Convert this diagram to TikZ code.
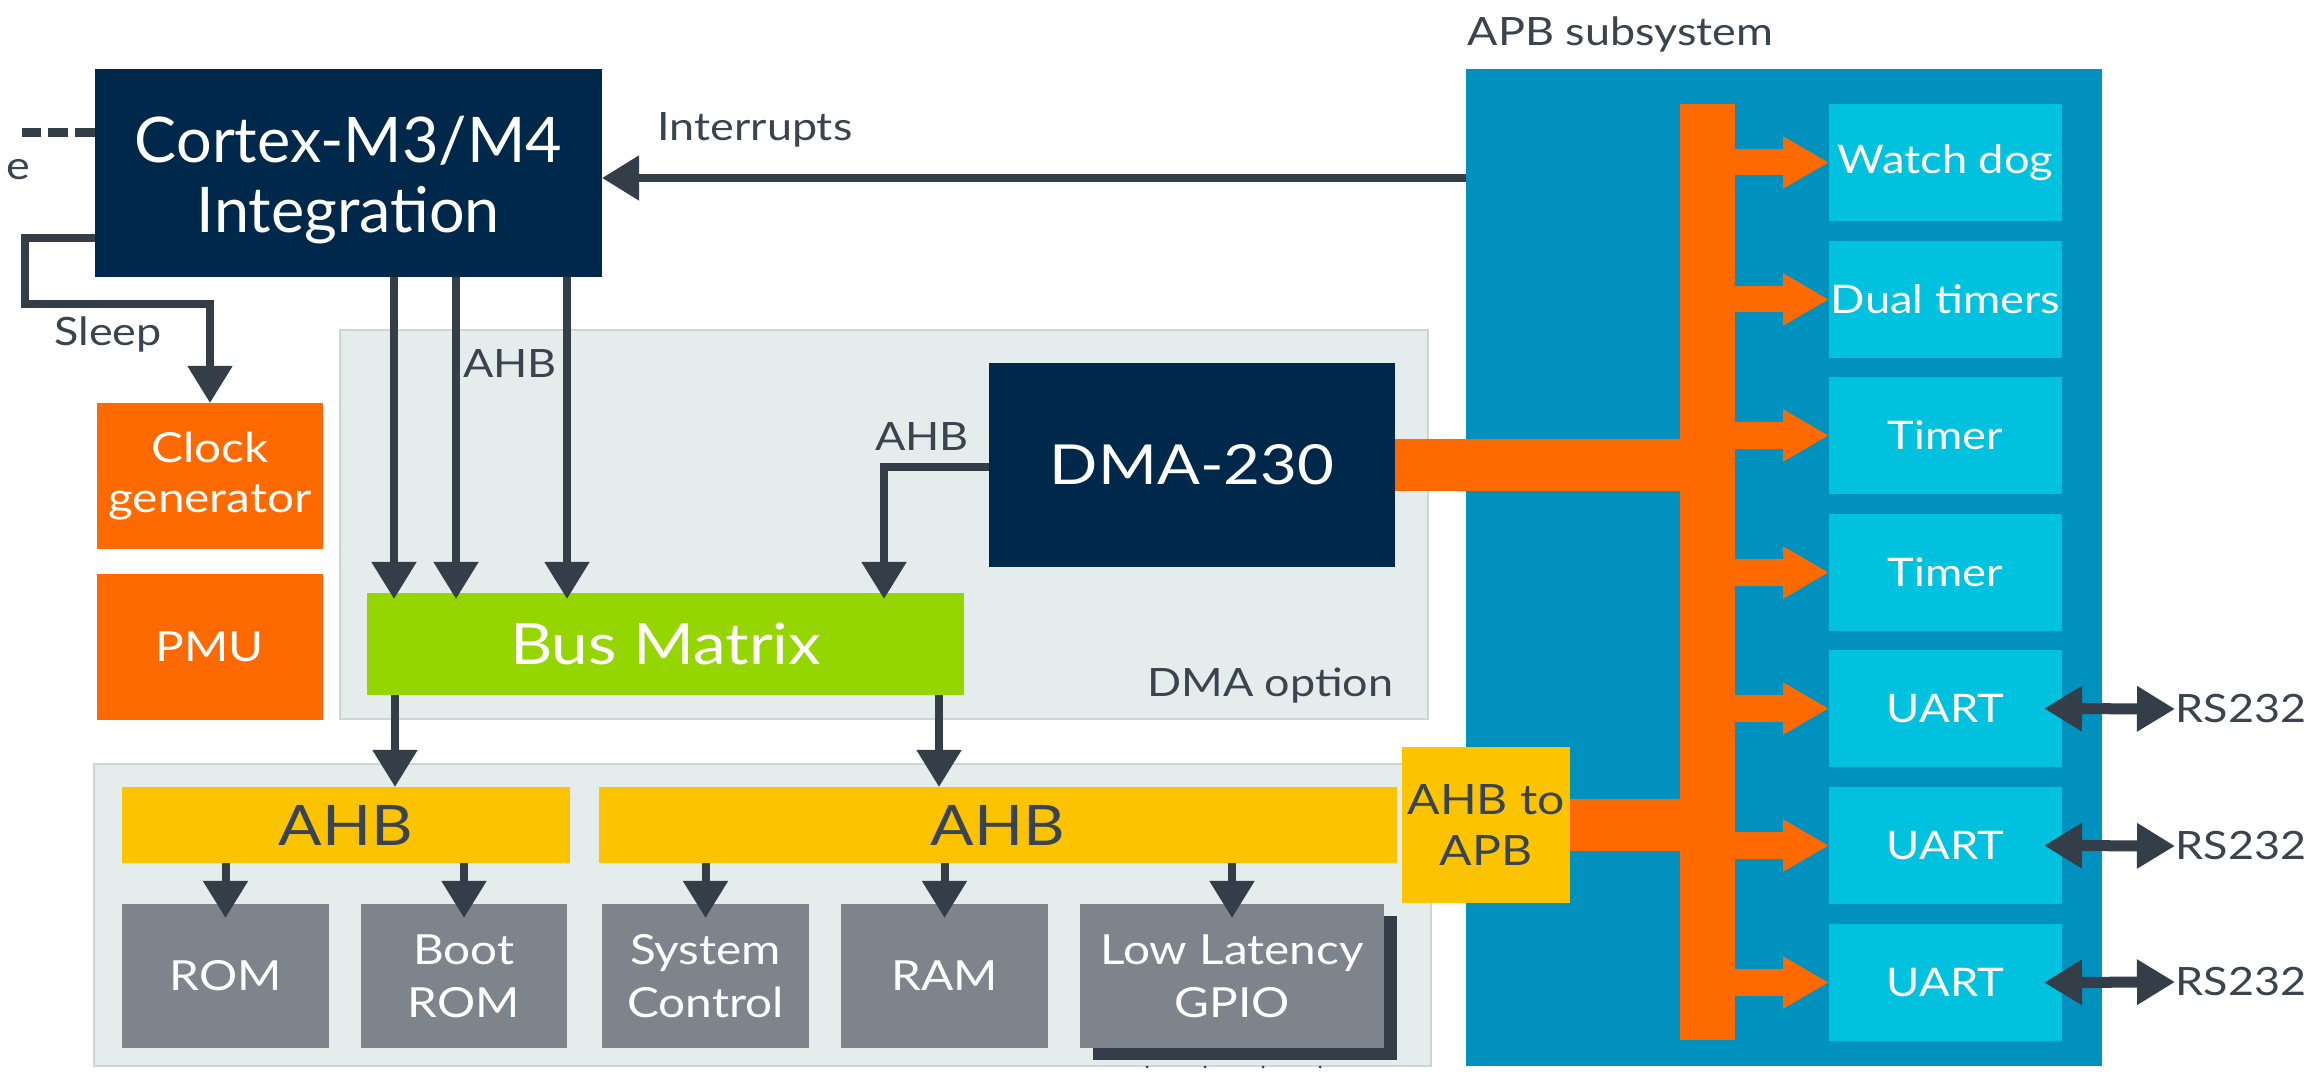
\documentclass[tikz,border=0pt]{standalone}
\usepackage{fontspec}
\setmainfont[FakeStretch=1.15]{Lato}
\newfontfamily\latoplain{Lato}
\usetikzlibrary{arrows.meta}
\definecolor{navy}{HTML}{00284A}
\definecolor{apbblue}{HTML}{0091BE}
\definecolor{cyanbox}{HTML}{00C1DE}
\definecolor{orng}{HTML}{FF6A00}
\definecolor{yell}{HTML}{FCC400}
\definecolor{grn}{HTML}{95D600}
\definecolor{gry}{HTML}{7D848C}
\definecolor{lightreg}{HTML}{E4ECEC}
\definecolor{lightedge}{HTML}{CDD5D5}
\definecolor{darkline}{HTML}{333E48}
\definecolor{darktext}{HTML}{3A444E}
\newcommand\blk[7]{\node[#2, minimum width={(#5-#3)*0.01cm}, minimum height={(#6-#4)*0.01cm}] (#1) at ({(#3+#5)/2},{(#4+#6)/2}) {#7};}
\tikzset{
  base/.style={inner sep=0pt, outer sep=0pt, align=center, text=white},
  region/.style={base, fill=lightreg, draw=lightedge, line width=0.5pt},
  navyblk/.style={base, fill=navy},
  orgblk/.style={base, fill=orng, font=\fontsize{11.8}{14.2}\selectfont},
  grnblk/.style={base, fill=grn, font=\fontsize{16.2}{18}\selectfont},
  yelblk/.style={base, fill=yell, text=darktext},
  gryblk/.style={base, fill=gry, font=\fontsize{11.8}{15}\selectfont},
  shadowblk/.style={base, fill=darkline},
  cyanblk/.style={base, fill=cyanbox, font=\fontsize{11.2}{14}\selectfont},
  apbblk/.style={base, fill=apbblue},
  lbl/.style={inner sep=0pt, text=darktext, font=\fontsize{11.1}{13}\selectfont},
  darr/.style={draw=darkline, line width=0.08cm, line join=miter, -{Triangle[width=0.43cm,length=0.37cm]}},
  dblarr/.style={draw=darkline, line width=0.11cm, {Triangle[width=0.43cm,length=0.38cm]}-{Triangle[width=0.43cm,length=0.38cm]}},
  oarr/.style={draw=orng, line width=0.26cm, -{Triangle[width=0.49cm,length=0.46cm]}},
  oband/.style={draw=orng, line width=0.51cm},
}
\begin{document}
\begin{tikzpicture}[x=0.01cm,y=-0.01cm]
\useasboundingbox[fill=white] (0,0) rectangle (2310,1083);
% regions
\blk{dmareg}{region}{340}{330}{1428}{719}{}
\blk{memreg}{region}{94}{764}{1431}{1066}{}
\blk{apb}{apbblk}{1466}{69}{2102}{1066}{}
% blocks
\blk{cortex}{navyblk}{95}{69}{602}{277}{}
\node[inner sep=0pt, align=center, text=white, font=\latoplain\fontsize{17.9}{19.9}\selectfont] (cortextxt) at ([yshift=-0.07cm]cortex.center) {Cortex-M3/M4\\Integration};
\blk{clock}{orgblk}{97}{403}{323}{549}{Clock\\generator}
\blk{pmu}{orgblk}{97}{574}{323}{720}{PMU}
\blk{bus}{grnblk}{367}{593}{964}{695}{Bus Matrix}
\blk{dma}{navyblk, font=\fontsize{15.7}{18}\selectfont}{989}{363}{1395}{567}{DMA-230}
\blk{ahbA}{yelblk, font=\fontsize{15.9}{18}\selectfont}{122}{787}{570}{863}{AHB}
\blk{ahbB}{yelblk, font=\fontsize{15.9}{18}\selectfont}{599}{787}{1397}{863}{AHB}
\blk{a2p}{yelblk, font=\fontsize{11.9}{14.5}\selectfont}{1402}{747}{1570}{903}{AHB to\\APB}
\blk{rom}{gryblk}{122}{904}{329}{1048}{ROM}
\blk{brom}{gryblk}{361}{904}{567}{1048}{Boot\\ROM}
\blk{sysc}{gryblk}{602}{904}{809}{1048}{System\\Control}
\blk{ram}{gryblk}{841}{904}{1048}{1048}{RAM}
\blk{gpiosh}{shadowblk}{1093}{916}{1397}{1060}{}
\blk{gpio}{gryblk}{1080}{904}{1384}{1048}{Low Latency\\GPIO}
\blk{obar}{base, fill=orng}{1680}{104}{1735}{1040}{}
\blk{wd}{cyanblk}{1829}{104}{2062}{221}{Watch dog}
\blk{dt}{cyanblk}{1829}{241}{2062}{358}{Dual timers}
\blk{tA}{cyanblk}{1829}{377}{2062}{494}{Timer}
\blk{tB}{cyanblk}{1829}{514}{2062}{631}{Timer}
\blk{uA}{cyanblk}{1829}{650}{2062}{767}{UART}
\blk{uB}{cyanblk}{1829}{787}{2062}{904}{UART}
\blk{uC}{cyanblk}{1829}{924}{2062}{1041}{UART}
% labels
\node[lbl] (lint) at (755,130) {Interrupts};
\node[lbl] (lsleep) at (108,334) {Sleep};
\node[lbl] (lahbc) at (510,364) {AHB};
\node[lbl] (lahbd) at (922,437) {AHB};
\node[lbl, anchor=east] (ldmaopt) at (1394,686) {DMA option};
\node[lbl, anchor=west] (lapb) at (1467,34) {APB subsystem};
\node[lbl, anchor=west] (rsA) at (2175,709) {RS232};
\node[lbl, anchor=west] (rsB) at (2175,846) {RS232};
\node[lbl, anchor=west] (rsC) at (2175,982) {RS232};
\node[lbl] (le) at (18,170) {e};
% coordinates
\coordinate (dashend) at (22,133);
\coordinate (iy) at (0,178);
\coordinate (s0) at (0,238);
\coordinate (s1) at (25,238);
\coordinate (s2) at (25,304);
\coordinate (cA) at (394,0);
\coordinate (cB) at (456,0);
\coordinate (cC) at (567,0);
\coordinate (d1) at (884,467);
\coordinate (bA) at (395,0);
\coordinate (bB) at (939,0);
% connectors
\draw[darkline, line width=0.09cm, dash pattern=on 0.2cm off 0.07cm] (cortex.west |- dashend) -- (dashend);
\draw[darr] (apb.west |- iy) -- (cortex.east |- iy);
\draw[darr] (cortex.west |- s0) -- (s1) -- (s2) -- (s2 -| clock.north) -- (clock.north);
\draw[darr] (cortex.south -| cA) -- ([yshift=-0.06cm]bus.north -| cA);
\draw[darr] (cortex.south -| cB) -- ([yshift=-0.06cm]bus.north -| cB);
\draw[darr] (cortex.south -| cC) -- ([yshift=-0.06cm]bus.north -| cC);
\draw[darr] (dma.west |- d1) -- (d1) -- ([yshift=-0.06cm]d1 |- bus.north);
\draw[darr] (bus.south -| bA) -- (ahbA.north -| bA);
\draw[darr] (bus.south -| bB) -- (ahbB.north -| bB);
\draw[darr] (ahbA.south -| rom.north) -- ([yshift=-0.14cm]rom.north);
\draw[darr] (ahbA.south -| brom.north) -- ([yshift=-0.14cm]brom.north);
\draw[darr] (ahbB.south -| sysc.north) -- ([yshift=-0.14cm]sysc.north);
\draw[darr] (ahbB.south -| ram.north) -- ([yshift=-0.14cm]ram.north);
\draw[darr] (ahbB.south -| gpio.north) -- ([yshift=-0.14cm]gpio.north);
\draw[oband] (dma.east) -- ([xshift=0.05cm]dma.east -| obar.west);
\draw[oband] (a2p.east) -- ([xshift=0.05cm]a2p.east -| obar.west);
\foreach \b in {wd,dt,tA,tB,uA,uB,uC}{
  \draw[oarr] ([xshift=-0.02cm]obar.east |- \b.west) -- (\b.west);
}
\draw[dblarr] ([xshift=-0.18cm]uA.east) -- (rsA.west);
\draw[dblarr] ([xshift=-0.18cm]uB.east) -- (rsB.west);
\draw[dblarr] ([xshift=-0.18cm]uC.east) -- (rsC.west);
\foreach \x in {1147,1205,1263,1320}{
  \fill[darkline] (\x,1067) circle (1.5);
}
\end{tikzpicture}
\end{document}
